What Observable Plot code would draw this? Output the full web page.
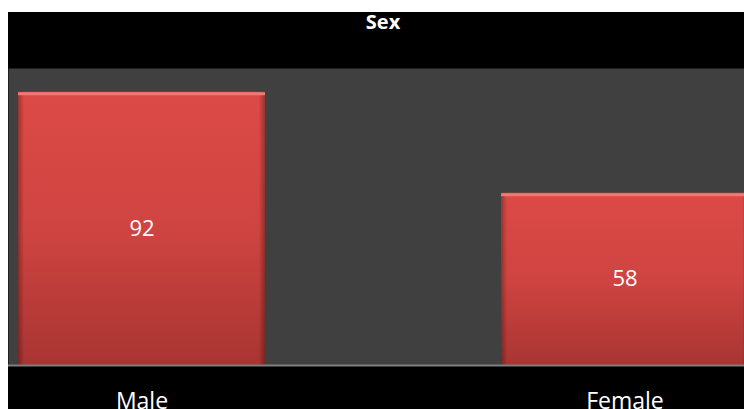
<!DOCTYPE html>
<html>
<head>
<meta charset="utf-8">
<script src="https://cdn.jsdelivr.net/npm/d3@7"></script>
<script src="https://cdn.jsdelivr.net/npm/@observablehq/plot@0.6"></script>
<style>
  html, body { margin: 0; padding: 0; background: white; overflow: hidden; }
  #wrap { position: absolute; left: 8px; top: 12px; width: 736px; height: 397px; background: black; }
  #title { width: 736px; height: 56px; position: relative; }
  #title span { position: absolute; left: 0; width: 750px; top: -4px; text-align: center; color: white; font: bold 20px "Open Sans", sans-serif; line-height: 28px; }
  #wrap svg { display: block; }
</style>
</head>
<body>
<div id="wrap">
  <div id="title"><span>Sex</span></div>
</div>
<script>
const categories = ["Male", "Female"];
const counts = [92, 58];
const data = categories.map((c, i) => ({sex: c, count: counts[i]}));

const chart = Plot.plot({
  width: 736,
  height: 341,
  marginTop: 0,
  marginBottom: 44,
  marginLeft: 0,
  marginRight: 0,
  style: {background: "black", fontFamily: "Open Sans, sans-serif", overflow: "hidden"},
  x: {domain: categories, range: [0, 750], paddingInner: 0.4876, paddingOuter: 0.0186, align: 0.5, axis: null},
  y: {domain: [0, 100], axis: null},
  marks: [
    Plot.frame({fill: "#404040", stroke: null}),
    Plot.barY(data, {x: "sex", y: "count", fill: "url(#barGrad)"}),
    Plot.barY(data, {x: "sex", y: "count", fill: "url(#sideShade)"}),
    Plot.tickY(data, {x: "sex", y: "count", stroke: "#ee7a74", strokeWidth: 3, dy: 1.5}),
    Plot.ruleY([0], {stroke: "#7f7f7f", strokeWidth: 2}),
    Plot.text(data, {x: "sex", y: d => d.count / 2, text: d => String(d.count), fill: "white", fontSize: 22}),
    Plot.text(data, {x: "sex", text: "sex", frameAnchor: "bottom", dy: 43, fill: "white", fontSize: 23})
  ]
});

const defs = d3.select(chart).insert("defs", ":first-child");
const g1 = defs.append("linearGradient").attr("id", "barGrad").attr("x1", 0).attr("y1", 0).attr("x2", 0).attr("y2", 1);
g1.append("stop").attr("offset", 0).attr("stop-color", "#dc4a46");
g1.append("stop").attr("offset", 0.5).attr("stop-color", "#cf4441");
g1.append("stop").attr("offset", 1).attr("stop-color", "#a83532");
const g2 = defs.append("linearGradient").attr("id", "sideShade").attr("x1", 0).attr("y1", 0).attr("x2", 1).attr("y2", 0);
g2.append("stop").attr("offset", 0).attr("stop-color", "#000").attr("stop-opacity", 0.3);
g2.append("stop").attr("offset", 0.025).attr("stop-color", "#000").attr("stop-opacity", 0);
g2.append("stop").attr("offset", 0.975).attr("stop-color", "#000").attr("stop-opacity", 0);
g2.append("stop").attr("offset", 1).attr("stop-color", "#000").attr("stop-opacity", 0.3);

document.getElementById("wrap").appendChild(chart);
</script>
</body>
</html>
